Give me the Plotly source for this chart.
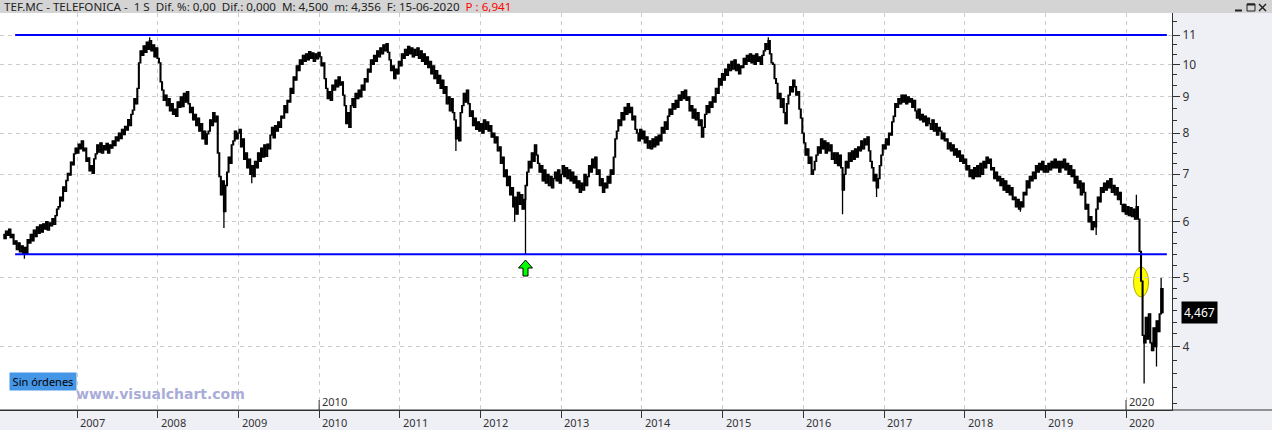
import numpy as np
import pandas as pd
import plotly.graph_objects as go

# ---------------- data (weekly closes) ----------------
close_2006 = [5.68, 5.82, 5.74, 5.86, 5.70, 5.76, 5.58, 5.64, 5.48, 5.60,
              5.44, 5.55, 5.42, 5.52, 5.40, 5.66, 5.60, 5.76, 5.64, 5.84,
              5.72, 5.90, 5.78, 5.94, 5.80, 5.96, 5.86, 6.00, 5.84, 5.98,
              5.92, 6.06, 5.95, 6.12, 6.25, 6.30, 6.50, 6.42, 6.72, 6.62,
              6.86, 7.02, 6.98, 7.28, 7.22, 7.48, 7.62]
close_2007 = [7.50, 7.72, 7.60, 7.80, 7.55, 7.62, 7.30, 7.38, 7.08, 7.20, 7.02, 7.36,
              7.48, 7.70, 7.52, 7.75, 7.50, 7.68, 7.58, 7.74, 7.50, 7.70, 7.62, 7.80,
              7.68, 7.90, 7.80, 8.00, 7.86, 8.10, 7.96, 8.18, 8.08, 8.36, 8.20, 8.50,
              8.62, 8.95, 8.80, 9.25, 10.05, 10.45, 10.30, 10.62, 10.40, 10.75, 10.50, 10.80,
              10.45, 10.65, 10.25, 10.55, 10.20]
close_2008 = [10.05, 9.45, 9.20, 8.90, 9.05, 8.75, 8.95, 8.60, 8.80, 8.50, 8.65, 8.45,
              8.85, 8.70, 9.00, 8.72, 9.10, 8.85, 9.15, 8.80, 8.55, 8.70, 8.35, 8.50,
              8.20, 8.40, 8.05, 8.25, 7.85, 8.05, 7.72, 7.98, 8.05, 8.35, 8.20, 8.55,
              8.30, 8.45, 7.50, 6.95, 6.55, 6.85, 6.20, 6.75, 7.05, 7.40, 7.25, 7.70,
              7.80, 8.05, 7.85, 8.00]
close_2009 = [8.10, 7.65, 7.85, 7.35, 7.50, 7.15, 7.35, 7.00, 7.20, 6.95, 7.30, 7.15,
              7.50, 7.30, 7.62, 7.40, 7.70, 7.42, 7.72, 7.60, 7.95, 8.15, 7.88, 8.20,
              8.05, 8.30, 8.15, 8.45, 8.40, 8.75, 8.55, 8.90, 8.85, 9.25, 9.10, 9.60,
              9.50, 9.95, 9.80, 10.15, 10.00, 10.30, 10.10, 10.35, 10.15, 10.42, 10.20, 10.38,
              10.10, 10.35, 10.18, 10.40]
close_2010 = [10.25, 9.95, 10.05, 9.55, 9.25, 8.95, 9.15, 8.90, 9.35, 9.20, 9.50, 9.30,
              9.60, 9.35, 9.45, 9.05, 8.75, 8.25, 8.55, 8.15, 8.75, 8.95, 8.70, 9.10,
              8.95, 9.20, 9.00, 9.35, 9.20, 9.55, 9.45, 9.85, 9.75, 10.15, 10.00, 10.30,
              10.10, 10.45, 10.25, 10.55, 10.35, 10.65, 10.45, 10.70, 10.40, 10.15, 9.80, 9.95,
              9.55, 9.85, 9.70, 10.10]
close_2011 = [9.95, 10.35, 10.20, 10.50, 10.30, 10.60, 10.35, 10.55, 10.25, 10.50, 10.30, 10.55,
              10.20, 10.45, 10.10, 10.35, 10.00, 10.25, 9.90, 10.10, 9.70, 9.95, 9.55, 9.80,
              9.40, 9.65, 9.25, 9.50, 9.10, 9.30, 8.80, 9.00, 8.60, 8.95, 8.55, 8.35,
              7.85, 8.15, 7.80, 8.55, 8.75, 9.10, 8.85, 9.20, 8.80, 8.45, 8.60, 8.20,
              8.40, 8.10, 8.30, 8.05]
close_2012 = [8.25, 8.00, 8.35, 8.10, 8.30, 8.05, 8.20, 7.90, 8.00, 7.75, 7.90, 7.55,
              7.65, 7.25, 7.40, 6.95, 7.10, 6.75, 6.95, 6.55, 6.70, 6.30, 6.50, 6.15,
              6.60, 6.35, 6.55, 6.25, 6.45, 6.75, 7.05, 7.30, 7.15, 7.50, 7.30, 7.70,
              7.45, 7.25, 7.05, 7.20, 6.85, 7.10, 6.80, 7.00, 6.75, 6.95, 6.70, 6.90,
              7.05, 6.85, 7.10, 6.80, 7.00]
close_2013 = [7.20, 6.95, 7.15, 6.90, 7.10, 6.85, 7.05, 6.80, 6.95, 6.70, 6.85, 6.60,
              6.80, 6.65, 7.00, 6.75, 6.95, 7.20, 7.05, 7.35, 7.15, 7.40, 7.00, 7.10,
              6.75, 6.90, 6.60, 6.80, 6.70, 6.95, 6.80, 7.10, 7.00, 7.40, 7.85, 8.05,
              8.35, 8.20, 8.55, 8.35, 8.70, 8.50, 8.80, 8.55, 8.70, 8.35, 8.45, 8.10,
              8.00, 7.80, 8.10, 7.85]
close_2014 = [8.05, 7.75, 7.90, 7.62, 7.80, 7.60, 7.85, 7.65, 7.90, 7.70, 7.95, 7.80,
              8.15, 8.00, 8.30, 8.10, 8.45, 8.65, 8.50, 8.80, 8.65, 8.90, 8.70, 9.05,
              8.90, 9.15, 8.95, 9.20, 8.90, 9.00, 8.60, 8.75, 8.40, 8.65, 8.35, 8.55,
              8.20, 8.35, 7.90, 8.15, 8.50, 8.75, 8.55, 8.85, 8.70, 9.00, 8.85, 9.25,
              9.10, 9.55, 9.35, 9.70]
close_2015 = [9.50, 9.85, 9.65, 10.00, 9.80, 10.10, 9.85, 10.15, 9.80, 10.00, 9.70, 9.95,
              9.90, 10.20, 10.00, 10.30, 10.10, 10.35, 10.05, 10.30, 10.00, 10.35, 10.10, 10.25,
              10.00, 10.30, 10.45, 10.70, 10.50, 10.80, 10.35, 10.05, 10.00, 9.55, 9.40, 8.95,
              9.10, 8.70, 8.95, 8.55, 8.25, 8.80, 9.05, 9.30, 9.15, 9.50, 9.30, 9.05,
              9.15, 8.65, 8.40, 8.00]
close_2016 = [7.75, 7.45, 7.60, 7.25, 7.40, 7.00, 7.10, 7.30, 7.45, 7.65, 7.50, 7.85,
              7.60, 7.80, 7.50, 7.75, 7.55, 7.70, 7.35, 7.50, 7.25, 7.50, 7.20, 7.45,
              7.15, 6.65, 7.00, 7.30, 7.15, 7.50, 7.30, 7.55, 7.35, 7.60, 7.40, 7.65,
              7.55, 7.80, 7.60, 7.85, 7.70, 7.90, 7.55, 7.30, 7.15, 6.85, 7.00, 6.70,
              6.90, 7.20, 7.45, 7.70]
close_2017 = [7.60, 7.85, 7.70, 8.00, 7.95, 8.30, 8.45, 8.80, 8.70, 8.95, 8.80, 9.05,
              8.85, 9.05, 8.80, 9.00, 8.85, 8.95, 8.70, 8.90, 8.60, 8.40, 8.65, 8.35,
              8.50, 8.30, 8.45, 8.20, 8.40, 8.25, 8.10, 8.35, 8.05, 8.25, 7.95, 8.15,
              8.05, 7.85, 8.00, 7.80, 7.85, 7.60, 7.75, 7.55, 7.70, 7.45, 7.60, 7.40,
              7.55, 7.30, 7.45, 7.25]
close_2018 = [7.35, 7.10, 7.20, 6.95, 7.10, 6.90, 7.15, 6.95, 7.20, 6.95, 7.25, 7.00,
              7.30, 7.15, 7.40, 7.25, 7.35, 7.10, 7.15, 6.90, 7.05, 6.85, 6.95, 6.75,
              6.90, 6.65, 6.85, 6.60, 6.75, 6.55, 6.70, 6.45, 6.50, 6.30, 6.45, 6.25,
              6.40, 6.30, 6.60, 6.55, 6.85, 6.70, 6.95, 6.85, 7.05, 6.90, 7.20, 7.05,
              7.25, 7.10, 7.30, 7.05, 7.20]
close_2019 = [7.05, 7.25, 7.10, 7.30, 7.15, 7.35, 7.15, 7.30, 7.05, 7.30, 7.15, 7.35,
              7.10, 7.25, 7.00, 7.20, 6.95, 7.10, 6.80, 6.95, 6.70, 6.85, 6.55, 6.80,
              6.60, 6.25, 6.35, 6.00, 6.10, 5.85, 6.00, 5.90, 6.25, 6.50, 6.40, 6.70,
              6.60, 6.80, 6.65, 6.85, 6.70, 6.90, 6.60, 6.75, 6.55, 6.70, 6.45, 6.60,
              6.35, 6.20, 6.35, 6.15]
close_2020 = [6.30, 6.12, 6.28, 6.10, 6.25, 6.05, 6.30, 6.05, 5.45, 4.95, 4.15, 4.05,
              4.40, 4.10, 4.45, 4.05, 3.95, 4.25, 4.00, 4.35, 4.20, 4.45, 4.83, 4.467]

first_week = "2006-02-06"
first_open = 5.76

spike_high_dates = ["2007-11-26", "2015-07-27", "2020-02-17", "2020-06-08"]
spike_high_values = [10.92, 10.92, 6.55, 5.00]
spike_low_dates = ["2006-05-08", "2008-10-27", "2009-03-02", "2011-09-12", "2012-06-04",
                   "2012-07-23", "2016-06-27", "2016-11-28", "2018-09-10", "2019-08-19",
                   "2020-03-23", "2020-05-18"]
spike_low_values = [5.32, 5.88, 6.80, 7.55, 6.00, 5.40, 6.15, 6.50, 6.20, 5.75, 3.55, 3.75]

level_values = [11.0, 5.40]
level_start, level_end = "2006-03-27", "2020-07-04"
year_labels = list(range(2007, 2021))
decade_labels = [2010, 2020]
price_ticks = [4, 5, 6, 7, 8, 9, 10, 11]
minor_ticks = [3.33, 3.5, 3.67, 3.83, 4.17, 4.33, 4.5, 4.67, 4.83, 5.2, 5.4, 5.6, 5.8,
               6.25, 6.5, 6.75, 7.25, 7.5, 7.75, 8.33, 8.67, 9.33, 9.67, 10.33, 10.67, 11.5]
signal_date = "2012-07-23"
highlight_date = "2020-03-09"
last_price = 4.467
header_text = ("TEF.MC - TELEFONICA -\u00a0 1 S\u00a0 Dif. %: 0,00\u00a0 Dif.: 0,000\u00a0 "
               "M: 4,500\u00a0 m: 4,356\u00a0 F: 15-06-2020\u00a0 ")
header_red = "P : 6,941"

# ---------------- build OHLC ----------------
closes = np.array(close_2006 + close_2007 + close_2008 + close_2009 + close_2010 +
                  close_2011 + close_2012 + close_2013 + close_2014 + close_2015 +
                  close_2016 + close_2017 + close_2018 + close_2019 + close_2020)
dates = pd.date_range(first_week, periods=len(closes), freq="7D")
opens = np.concatenate([[first_open], closes[:-1]])
highs = np.maximum(opens, closes)
lows = np.minimum(opens, closes)
for d, v in zip(spike_high_dates, spike_high_values):
    i = int(abs(dates - pd.Timestamp(d)).argmin())
    highs[i] = max(highs[i], v)
for d, v in zip(spike_low_dates, spike_low_values):
    i = int(abs(dates - pd.Timestamp(d)).argmin())
    lows[i] = min(lows[i], v)

# ---------------- geometry ----------------
W, H = 1272, 430
L, R, T, B = 0, 100, 13, 20
PW, PH = W - L - R, H - T - B
FONT = "Noto Sans"


def px(x):
    return (x - L) / PW


def py(y):
    return (H - B - y) / PH


fig = go.Figure()
fig.add_trace(go.Candlestick(
    x=dates, open=opens, high=highs, low=lows, close=closes,
    increasing=dict(line=dict(color="black", width=1.3), fillcolor="white"),
    decreasing=dict(line=dict(color="black", width=1.3), fillcolor="black"),
    whiskerwidth=0, showlegend=False, hoverinfo="skip"))
for lv in level_values:
    fig.add_trace(go.Scatter(x=[level_start, level_end], y=[lv, lv], mode="lines",
                             line=dict(color="#0000ff", width=2), showlegend=False,
                             hoverinfo="skip"))

shapes = []
shapes.append(dict(type="rect", xref="paper", yref="paper", x0=px(0), x1=px(W),
                   y0=py(T), y1=py(0), fillcolor="#d4d4d4", line=dict(width=0)))
shapes.append(dict(type="line", xref="paper", yref="paper", x0=px(0), x1=px(W),
                   y0=0, y1=0, line=dict(color="#333333", width=1)))
shapes.append(dict(type="line", xref="paper", yref="paper", x0=px(1235), x1=px(1242),
                   y0=py(10.5), y1=py(10.5), line=dict(color="#222", width=2)))
shapes.append(dict(type="rect", xref="paper", yref="paper", x0=px(1247), x1=px(1255),
                   y0=py(11), y1=py(4), line=dict(color="#222", width=1)))
shapes.append(dict(type="line", xref="paper", yref="paper", x0=px(1247), x1=px(1255),
                   y0=py(4.5), y1=py(4.5), line=dict(color="#222", width=2)))
shapes.append(dict(type="line", xref="paper", yref="paper", x0=px(1259), x1=px(1266),
                   y0=py(4), y1=py(11), line=dict(color="#222", width=1.5)))
shapes.append(dict(type="line", xref="paper", yref="paper", x0=px(1259), x1=px(1266),
                   y0=py(11), y1=py(4), line=dict(color="#222", width=1.5)))
for yr in decade_labels:
    shapes.append(dict(type="line", xref="x", yref="paper", x0=f"{yr}-01-01", x1=f"{yr}-01-01",
                       y0=0, y1=py(400), line=dict(color="#333", width=1)))
shapes.append(dict(type="circle", xref="x", xsizemode="pixel", xanchor=highlight_date,
                   x0=-7.5, x1=7.5, yref="paper", y0=py(297), y1=py(267),
                   fillcolor="#ffff00", line=dict(color="#b4a800", width=1), layer="below"))
shapes.append(dict(type="path", xref="x", xsizemode="pixel", xanchor=signal_date,
                   yref="paper", ysizemode="pixel", yanchor=py(276),
                   path="M-2.5,0 L2.5,0 L2.5,8 L7,8 L0,16 L-7,8 L-2.5,8 Z",
                   fillcolor="#00ff00", line=dict(color="black", width=1)))

annotations = []
annotations.append(dict(xref="paper", yref="paper", x=px(2), y=py(6.5), xanchor="left",
                        yanchor="middle", showarrow=False,
                        text=header_text + f"<span style='color:#ff0000'>{header_red}</span>",
                        font=dict(family=FONT, size=11.6, color="#222")))
for yr in year_labels:
    annotations.append(dict(xref="x", yref="paper", x=f"{yr}-01-01", y=py(422.5),
                            xanchor="left", yanchor="middle", xshift=1, showarrow=False,
                            text=str(yr), font=dict(family=FONT, size=11, color="#333")))
for yr in decade_labels:
    annotations.append(dict(xref="x", yref="paper", x=f"{yr}-01-01", y=py(401.5),
                            xanchor="left", yanchor="middle", xshift=1, showarrow=False,
                            text=str(yr), font=dict(family=FONT, size=11, color="#333")))
annotations.append(dict(xref="paper", yref="paper", x=px(9), y=py(372), xanchor="left",
                        yanchor="top", showarrow=False, text="Sin órdenes",
                        bgcolor="#4596e6", borderpad=2, width=62, height=13,
                        font=dict(family=FONT, size=11, color="#000")))
annotations.append(dict(xref="paper", yref="paper", x=px(74), y=py(394), xanchor="left",
                        yanchor="middle", showarrow=False, text="<b>www.visualchart.com</b>",
                        font=dict(family="DejaVu Sans", size=14, color="#a9acd8")))
annotations.append(dict(xref="paper", yref="y", x=px(1181), y=np.log10(last_price),
                        xanchor="left", yanchor="middle", showarrow=False,
                        text=f"{last_price:.3f}".replace(".", ","), bgcolor="#000000",
                        borderpad=2, font=dict(family=FONT, size=12, color="#ffffff")))

fig.update_layout(
    width=W, height=H, margin=dict(l=L, r=R, t=T, b=B, pad=0),
    paper_bgcolor="#eff0f5", plot_bgcolor="#ffffff",
    showlegend=False, shapes=shapes, annotations=annotations,
    xaxis=dict(type="date", range=["2006-01-17 12:00", "2020-07-27 05:00"],
               tickvals=[f"{y}-01-01" for y in year_labels], showticklabels=False,
               ticks="outside", ticklen=7, tickcolor="#333",
               showgrid=True, gridcolor="#cccccc", griddash="4px,4px", gridwidth=1,
               showline=True, linecolor="#333", linewidth=1, zeroline=False,
               rangeslider=dict(visible=False), fixedrange=True),
    yaxis=dict(type="log", side="right",
               range=[np.log10(3.2570), np.log10(11.815)],
               tickvals=price_ticks, ticktext=[str(v) for v in price_ticks],
               ticks="outside", ticklen=7, tickcolor="#333",
               tickfont=dict(family=FONT, size=12, color="#333"),
               showgrid=True, gridcolor="#cccccc", griddash="4px,4px", gridwidth=1,
               showline=True, linecolor="#333", linewidth=1, zeroline=False,
               minor=dict(tickvals=minor_ticks, ticks="outside", ticklen=4,
                          tickcolor="#333", showgrid=False),
               fixedrange=True),
)

fig.write_html("out.html")
